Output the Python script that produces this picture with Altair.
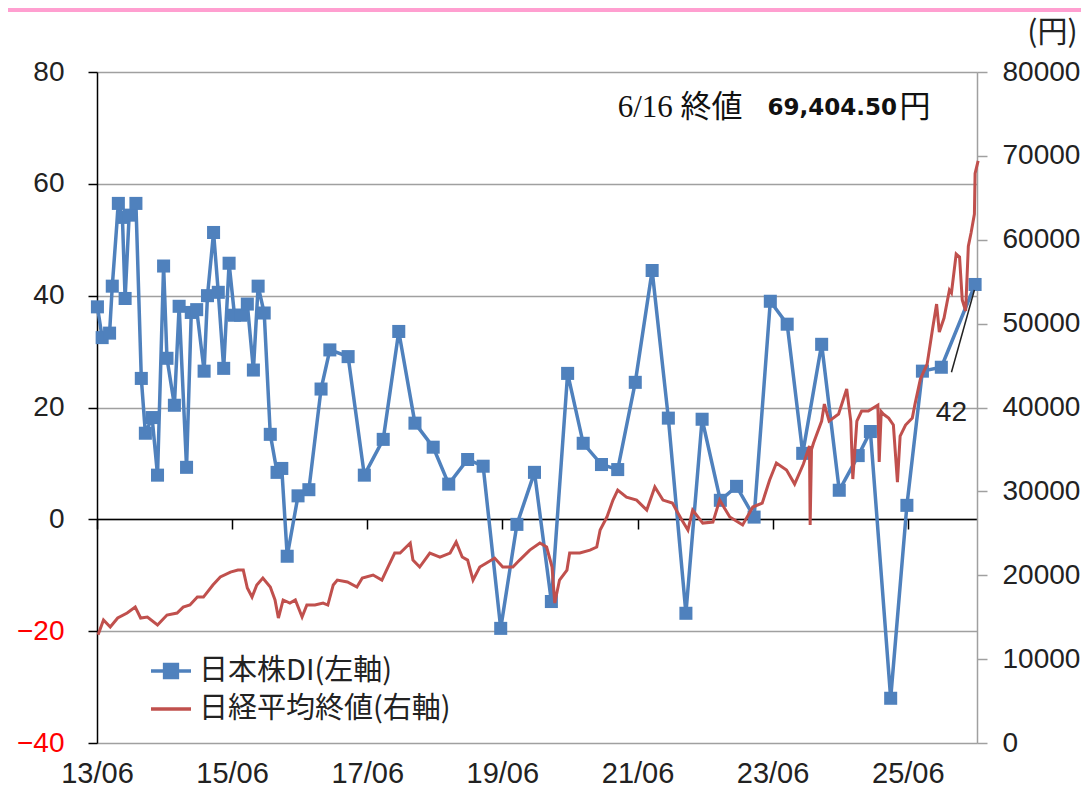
import altair as alt
import pandas as pd

# ---------------- data ----------------
SERIES = ["日本株DI(左軸)", "日経平均終値(右軸)"]

# 日本株DI (left axis), time as decimal year
DI_YEARS = [2013.42, 2013.49, 2013.60, 2013.64, 2013.73, 2013.79, 2013.83, 2013.89, 2013.99,
            2014.07, 2014.13, 2014.23, 2014.31, 2014.40, 2014.45, 2014.56, 2014.63, 2014.74,
            2014.81, 2014.89, 2015.00, 2015.05, 2015.14, 2015.21, 2015.29, 2015.37, 2015.45,
            2015.54, 2015.64, 2015.73, 2015.80, 2015.89, 2015.98, 2016.08, 2016.15, 2016.23,
            2016.39, 2016.55, 2016.73, 2016.86, 2017.13, 2017.37, 2017.65, 2017.88, 2018.12,
            2018.39, 2018.62, 2018.90, 2019.13, 2019.39, 2019.63, 2019.89, 2020.14, 2020.38,
            2020.61, 2020.88, 2021.12, 2021.38, 2021.63, 2021.87, 2022.13, 2022.37, 2022.64,
            2022.88, 2023.14, 2023.38, 2023.63, 2023.86, 2024.14, 2024.40, 2024.68, 2024.86,
            2025.16, 2025.40, 2025.63, 2025.91, 2026.41]
DI_VALUES = [38, 32.5, 33.3, 41.7, 56.5, 54.0, 39.5, 54.4, 56.5,
             25.2, 15.4, 18.2, 7.9, 45.3, 28.8, 20.4, 38.1, 9.3,
             37.0, 37.5, 26.5, 40.0, 51.3, 40.6, 27.0, 45.8, 36.5,
             36.5, 38.5, 26.7, 41.7, 36.9, 15.2, 8.4, 9.1, -6.6,
             4.2, 5.3, 23.3, 30.3, 29.1, 7.9, 14.3, 33.6, 17.2,
             12.9, 6.3, 10.7, 9.5, -19.5, -0.9, 8.4, -14.7, 26.1,
             13.6, 9.8, 8.9, 24.5, 44.5, 18.1, -16.8, 17.9, 3.4,
             5.9, 0.4, 39.0, 34.9, 11.8, 31.3, 5.2, 11.4, 15.7,
             -32.0, 2.5, 26.5, 27.2, 42.0]

# 日経平均終値 (right axis)
NK_YEARS = [2013.43, 2013.51, 2013.61, 2013.72, 2013.86, 2013.98, 2014.06, 2014.16, 2014.31,
            2014.45, 2014.60, 2014.69, 2014.79, 2014.90, 2014.99, 2015.13, 2015.24, 2015.39,
            2015.50, 2015.58, 2015.64, 2015.71, 2015.78, 2015.87, 2015.98, 2016.05, 2016.10,
            2016.17, 2016.27, 2016.35, 2016.45, 2016.52, 2016.64, 2016.76, 2016.83, 2016.91,
            2016.97, 2017.12, 2017.26, 2017.34, 2017.50, 2017.63, 2017.72, 2017.82, 2017.90,
            2018.05, 2018.09, 2018.19, 2018.34, 2018.49, 2018.64, 2018.73, 2018.82, 2018.90,
            2018.98, 2019.08, 2019.18, 2019.30, 2019.42, 2019.57, 2019.67, 2019.82, 2019.97,
            2020.07, 2020.15, 2020.19, 2020.26, 2020.37, 2020.41, 2020.56, 2020.71, 2020.81,
            2020.86, 2020.96, 2021.05, 2021.12, 2021.25, 2021.40, 2021.55, 2021.67, 2021.79,
            2021.93, 2022.07, 2022.16, 2022.23, 2022.38, 2022.53, 2022.63, 2022.78, 2022.97,
            2023.12, 2023.26, 2023.37, 2023.47, 2023.62, 2023.74, 2023.87, 2023.96, 2023.97,
            2023.99, 2024.02, 2024.14, 2024.18, 2024.25, 2024.39, 2024.51, 2024.57, 2024.60,
            2024.66, 2024.73, 2024.83, 2024.97, 2024.99, 2025.02, 2025.05, 2025.13, 2025.20,
            2025.26, 2025.30, 2025.38, 2025.48, 2025.52, 2025.60, 2025.70, 2025.78, 2025.84,
            2025.88, 2025.95, 2026.03, 2026.06, 2026.13, 2026.18, 2026.22, 2026.27, 2026.31,
            2026.35, 2026.40, 2026.41, 2026.455]
NK_VALUES = [12900, 14660, 13830, 14900, 15500, 16200, 14900, 15020, 14070,
             15260, 15500, 16200, 16450, 17400, 17400, 18840, 19790, 20380,
             20620, 20620, 18480, 17400, 18840, 19670, 18600, 17050, 14900,
             17050, 16690, 17050, 15020, 16450, 16450, 16690, 16450, 18840,
             19430, 19190, 18600, 19670, 20030, 19430, 20980, 22650, 22650,
             23840, 21810, 20980, 22650, 22170, 22650, 23960, 22170, 21810,
             19430, 20980, 21460, 22050, 20980, 20980, 21810, 23000, 23840,
             23360, 20980, 16690, 19430, 20620, 22650, 22650, 23000, 23360,
             25390, 26940, 28960, 30160, 29320, 28960, 27770, 30520, 28960,
             28600, 26580, 25390, 27770, 26220, 26340, 28960, 26940, 25990,
             28130, 28600, 31350, 33380, 32540, 30870, 33260, 35400, 25990,
             35000, 35760, 38380, 40410, 38380, 39220, 42200, 38380, 31470,
             38380, 39580, 39580, 40290, 33500, 39500, 39220, 38740, 37910,
             31110, 36600, 37910, 38740, 40410, 43390, 45180, 49350, 52330,
             49000, 50670, 54000, 53650, 58300, 57940, 52810, 51500, 59240,
             60800, 63060, 67900, 69404.5]

X_TICK_YEARS = [2013, 2015, 2017, 2019, 2021, 2023, 2025]
LEFT_TICKS = [-40, -20, 0, 20, 40, 60, 80]
RIGHT_TICKS = [0, 10000, 20000, 30000, 40000, 50000, 60000, 70000, 80000]
RIGHT_UNIT = "(円)"
CLOSE_NOTE = ["6/16 終値", "69,404.50", "円"]
NOTE_YEARS = [2021.12, 2023.34, 2025.29]
NOTE_Y = 73.6
LAST_LABEL = "42"
LEADER_YEARS = [2026.40, 2026.06]
LEADER_Y = [41.0, 26.3]
LAST_LABEL_POS = (2026.06, 19.0)

BLUE = "#4f81bd"
RED = "#c0504d"
FONT = "Liberation Sans"
CJK = "Noto Sans CJK JP"


def to_date(t):
    y = int(t)
    start = pd.Timestamp(year=y, month=1, day=1)
    ndays = 366 if (y % 4 == 0) else 365
    return start + pd.Timedelta(days=(t - y) * ndays)


di = pd.DataFrame({"date": [to_date(t) for t in DI_YEARS], "di": DI_VALUES,
                   "series": SERIES[0]})
nk = pd.DataFrame({"date": [to_date(t) for t in NK_YEARS], "nk": NK_VALUES})

X_SCALE = alt.Scale(domain=[alt.DateTime(year=2013, month=6, date=1),
                            alt.DateTime(year=2026, month=6, date=10)])
Y_LEFT = alt.Scale(domain=[-40, 80], nice=False, zero=False)
Y_RIGHT = alt.Scale(domain=[0, 80000], nice=False)

x_axis = alt.Axis(values=[alt.DateTime(year=y, month=6, date=1) for y in X_TICK_YEARS],
                  format="%y/%m", offset=-224, tickSize=10, tickColor="black",
                  tickWidth=1.5, domainColor="black", domainWidth=1.5,
                  labelPadding=230, labelFont=FONT, labelFontSize=29,
                  labelColor="#222222", grid=False, title=None,
                  labelFlush=False, labelOverlap=False)

left_axis = alt.Axis(values=LEFT_TICKS, title=None, orient="left", grid=True,
                     gridColor="#a0a0a0", gridWidth=1.5, domainColor="black",
                     domainWidth=1.5, tickColor="black", tickSize=9, tickWidth=1.5,
                     labelFont=FONT, labelFontSize=28, labelPadding=24,
                     labelColor={"condition": {"test": "datum.value < 0", "value": "#ff0000"},
                                 "value": "#222222"})

right_axis = alt.Axis(values=RIGHT_TICKS, format="d", orient="right", grid=False,
                      domainColor="#a0a0a0", domainWidth=1.5, tickColor="#a0a0a0",
                      tickSize=10, tickWidth=1.5, labelFont=FONT, labelFontSize=28,
                      labelColor="#222222", labelPadding=15,
                      title=RIGHT_UNIT, titleAngle=0, titleX=75, titleY=-40,
                      titleAlign="center", titleBaseline="middle", titleFont=CJK,
                      titleFontSize=30, titleFontWeight="normal", titleColor="#222222")


def X(field):
    return alt.X(field, scale=X_SCALE, axis=x_axis)


def YL(field):
    return alt.Y(field, scale=Y_LEFT, axis=left_axis)


base_di = alt.Chart(di)

di_line = base_di.mark_line(color=BLUE, strokeWidth=3.5).encode(
    x=X("date:T"), y=YL("di:Q"))
di_pts = base_di.mark_point(shape="square", filled=True, size=170, color=BLUE,
                            opacity=1).encode(x=X("date:T"), y=YL("di:Q"))

legend = alt.Legend(title=None, orient="none", legendX=52, legendY=577,
                    direction="vertical", labelFont=CJK, labelFontSize=29,
                    labelColor="#222222", labelOffset=6, rowPadding=1,
                    symbolSize=1600, symbolStrokeWidth=3.5, symbolOpacity=1,
                    padding=0, labelLimit=600)
legend_layer = base_di.transform_filter("false").mark_point(
    filled=True, size=1600, strokeWidth=3.5, opacity=1).encode(
    x=X("date:T"), y=YL("di:Q"),
    fill=alt.Fill("series:N", scale=alt.Scale(domain=SERIES, range=[BLUE, "transparent"]),
                  legend=legend),
    stroke=alt.Stroke("series:N", scale=alt.Scale(domain=SERIES, range=[BLUE, RED]),
                      legend=legend),
    shape=alt.Shape("series:N", scale=alt.Scale(
        domain=SERIES,
        range=["M-1,0H1M-0.32,-0.32H0.32V0.32H-0.32Z", "M-1,0H1"]), legend=legend),
)

notes = pd.DataFrame({"date": [to_date(t) for t in NOTE_YEARS], "di": [NOTE_Y] * 3,
                      "text": CLOSE_NOTE})
note_styles = [
    dict(font="Liberation Serif, Noto Sans CJK JP", fontSize=31, fontWeight="normal"),
    dict(font="DejaVu Sans", fontSize=23, fontWeight="bold"),
    dict(font=CJK, fontSize=31, fontWeight="normal"),
]
note_layers = []
for i, st in enumerate(note_styles):
    note_layers.append(
        alt.Chart(notes.iloc[[i]]).mark_text(align="left", baseline="middle",
                                             color="#111111", **st).encode(
            x=X("date:T"), y=YL("di:Q"), text="text:N")
    )

leader_df = pd.DataFrame({"date": [to_date(LEADER_YEARS[0])],
                          "date2": [to_date(LEADER_YEARS[1])],
                          "di": [LEADER_Y[0]], "di2": [LEADER_Y[1]]})
leader = alt.Chart(leader_df).mark_rule(color="#222222", strokeWidth=1.5).encode(
    x=X("date:T"), x2="date2:T", y=YL("di:Q"), y2="di2:Q")

last_df = pd.DataFrame({"date": [to_date(LAST_LABEL_POS[0])], "di": [LAST_LABEL_POS[1]],
                        "text": [LAST_LABEL]})
last_lbl = alt.Chart(last_df).mark_text(font=FONT, fontSize=28, color="#222222",
                                        align="center", baseline="middle").encode(
    x=X("date:T"), y=YL("di:Q"), text="text:N")

pink = alt.Chart(di).mark_rule(color="#ff9fd0", strokeWidth=4).encode(
    x=alt.value(-89), x2=alt.value(984), y=alt.value(-62))

left_group = alt.layer(di_line, di_pts, legend_layer, *note_layers, leader, last_lbl, pink)

nk_line = alt.Chart(nk).mark_line(color=RED, strokeWidth=3).encode(
    x=X("date:T"),
    y=alt.Y("nk:Q", scale=Y_RIGHT, axis=right_axis),
)

chart = alt.layer(left_group, nk_line).resolve_scale(y="independent").properties(
    width=880, height=671,
    autosize=alt.AutoSizeParams(type="none"),
    padding={"left": 89, "top": 64, "right": 104, "bottom": 50},
).configure_view(stroke=None).configure(background="white")

chart.save("out.html", embed_options={"renderer": "svg", "actions": False})
